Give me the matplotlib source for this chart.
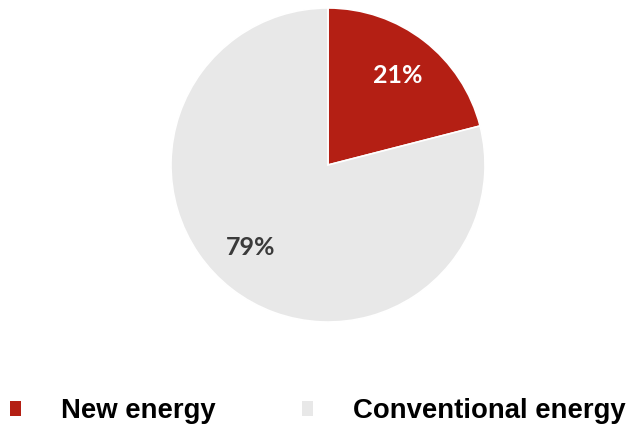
import matplotlib
matplotlib.use('Agg')
import matplotlib.pyplot as plt
import matplotlib.transforms as mtransforms

labels = ['New energy', 'Conventional energy']
shares = [21, 79]
colors = ['#b41f14', '#e8e8e8']
pct_colors = ['white', '#3a3a3a']

fig = plt.figure(figsize=(6.37, 4.28), dpi=100)
# pie axes: centre ~(328,165) px, radius ~157 px
ax = fig.add_axes([(328 - 157) / 637, (428 - 322) / 428, 314 / 637, 314 / 428])
wedges, texts, autotexts = ax.pie(
    shares, colors=colors, startangle=90, counterclock=False,
    autopct='%d%%', pctdistance=0.72, radius=1.0,
    wedgeprops=dict(edgecolor='white', linewidth=1.2))
for t, c in zip(autotexts, pct_colors):
    t.set_color(c)
    t.set_fontsize(18)
    t.set_fontweight('bold')
    t.set_family(['Lato', 'DejaVu Sans'])
# the 79% label sits a bit left/up of the wedge bisector in the original
autotexts[1].set_transform(mtransforms.offset_copy(ax.transData, fig=fig, x=-6, y=5, units='points'))
ax.set_xlim(-1, 1)
ax.set_ylim(-1, 1)
ax.set_aspect('equal')

leg = fig.legend(wedges, labels, loc='center left', bbox_to_anchor=(10 / 637, (428 - 411) / 428),
                 ncol=2, frameon=False, handlelength=0.4, handleheight=0.47,
                 handletextpad=1.45, columnspacing=3.15, borderaxespad=0, borderpad=0,
                 prop={'family': ['Liberation Sans Narrow', 'Liberation Sans'],
                       'weight': 'bold', 'size': 19.8})
for h in leg.legend_handles:
    h.set_edgecolor('none')

fig.savefig('out.png', dpi=100)
